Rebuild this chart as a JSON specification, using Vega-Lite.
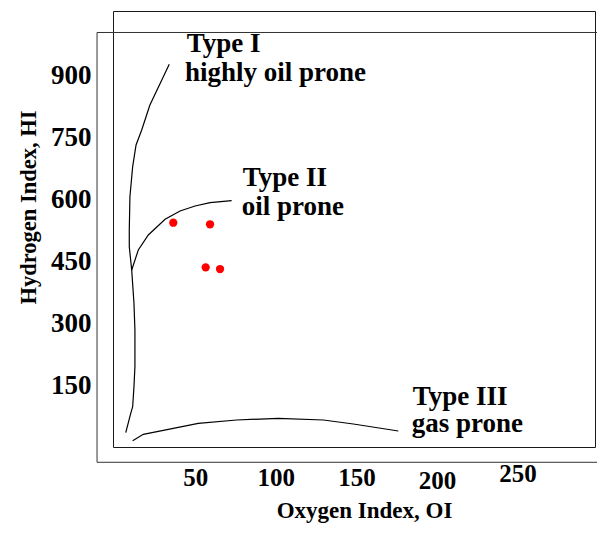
{
  "$schema": "https://vega.github.io/schema/vega-lite/v6.json",
  "autosize": {"type": "none"},
  "padding": {"left": 113, "top": 11, "right": 2, "bottom": 86},
  "width": 482,
  "height": 436,
  "background": "white",
  "config": {
    "view": {"stroke": "#1a1a1a", "strokeWidth": 1},
    "font": "Liberation Serif"
  },
  "datasets": {
    "curves": [
      {"series": "Type I", "seq": 1, "x": 33.9, "y": 926.0},
      {"series": "Type I", "seq": 2, "x": 21.9, "y": 827.5},
      {"series": "Type I", "seq": 3, "x": 19.5, "y": 799.2},
      {"series": "Type I", "seq": 4, "x": 16.8, "y": 767.1},
      {"series": "Type I", "seq": 5, "x": 13.3, "y": 730.8},
      {"series": "Type I", "seq": 6, "x": 11.2, "y": 678.3},
      {"series": "Type I", "seq": 7, "x": 9.5, "y": 605.7},
      {"series": "Type I", "seq": 8, "x": 9.1, "y": 525.1},
      {"series": "Type I", "seq": 9, "x": 9.1, "y": 484.7},
      {"series": "Type I", "seq": 10, "x": 10.6, "y": 428.3},
      {"series": "Type I", "seq": 11, "x": 12.0, "y": 348.4},
      {"series": "Type I", "seq": 12, "x": 12.6, "y": 283.1},
      {"series": "Type I", "seq": 13, "x": 12.6, "y": 194.3},
      {"series": "Type I", "seq": 14, "x": 12.0, "y": 145.9},
      {"series": "Type I", "seq": 15, "x": 11.2, "y": 97.5},
      {"series": "Type I", "seq": 16, "x": 10.0, "y": 81.5},
      {"series": "Type I", "seq": 17, "x": 6.9, "y": 34.6},
      {"series": "Type II", "seq": 1, "x": 10.6, "y": 428.3},
      {"series": "Type II", "seq": 2, "x": 14.7, "y": 476.7},
      {"series": "Type II", "seq": 3, "x": 20.9, "y": 513.0},
      {"series": "Type II", "seq": 4, "x": 31.3, "y": 551.0},
      {"series": "Type II", "seq": 5, "x": 40.6, "y": 571.1},
      {"series": "Type II", "seq": 6, "x": 49.9, "y": 583.2},
      {"series": "Type II", "seq": 7, "x": 59.2, "y": 591.1},
      {"series": "Type II", "seq": 8, "x": 72.6, "y": 596.0},
      {"series": "Type III", "seq": 1, "x": 11.2, "y": 15.2},
      {"series": "Type III", "seq": 2, "x": 17.8, "y": 30.7},
      {"series": "Type III", "seq": 3, "x": 51.9, "y": 57.3},
      {"series": "Type III", "seq": 4, "x": 75.7, "y": 65.3},
      {"series": "Type III", "seq": 5, "x": 101.5, "y": 69.4},
      {"series": "Type III", "seq": 6, "x": 129.5, "y": 65.3},
      {"series": "Type III", "seq": 7, "x": 148.1, "y": 55.7},
      {"series": "Type III", "seq": 8, "x": 176.0, "y": 38.7}
    ],
    "samples": [
      {"x": 36.4, "y": 542.7},
      {"x": 59.2, "y": 538.9},
      {"x": 56.5, "y": 434.8},
      {"x": 65.4, "y": 430.7}
    ],
    "labels": [
      {"x": 44.7, "y": 955.8, "label": "Type I"},
      {"x": 43.7, "y": 886.0, "label": "highly oil prone"},
      {"x": 79.5, "y": 632.5, "label": "Type II"},
      {"x": 78.8, "y": 562.5, "label": "oil prone"},
      {"x": 184.9, "y": 102.5, "label": "Type III"},
      {"x": 184.3, "y": 35.5, "label": "gas prone"}
    ],
    "frame": [
      {"x": -10.9, "x2": 300, "y": -37.0, "y2": 1003}
    ]
  },
  "encoding": {
    "x": {
      "field": "x",
      "type": "quantitative",
      "scale": {"domain": [-1, 298], "nice": false, "zero": false},
      "axis": {
        "values": [50, 100, 150, 200, 250],
        "ticks": false,
        "tickSize": 0,
        "domain": false,
        "grid": false,
        "labelFont": "Liberation Serif",
        "labelFontWeight": "bold",
        "labelFontSize": 25,
        "labelColor": "black",
        "labelBaseline": "alphabetic",
        "labelFlush": false,
        "labelOverlap": false,
        "labelPadding": {"expr": "datum.value == 200 ? 41.5 : (datum.value == 250 ? 34 : 38.7)"},
        "title": "Oxygen Index, OI",
        "titleFont": "Liberation Serif",
        "titleFontWeight": "bold",
        "titleFontSize": 23,
        "titleColor": "black",
        "titleX": 251,
        "titleY": 70,
        "titleBaseline": "alphabetic",
        "titleAlign": "center"
      }
    },
    "y": {
      "field": "y",
      "type": "quantitative",
      "scale": {"domain": [0, 1055], "nice": false, "zero": false},
      "axis": {
        "values": [150, 300, 450, 600, 750, 900],
        "ticks": false,
        "tickSize": 0,
        "domain": false,
        "grid": false,
        "labelFont": "Liberation Serif",
        "labelFontWeight": "bold",
        "labelFontSize": 27,
        "labelColor": "black",
        "labelPadding": 22,
        "labelFlush": false,
        "labelOverlap": false,
        "title": "Hydrogen Index, HI",
        "titleFont": "Liberation Serif",
        "titleFontWeight": "bold",
        "titleFontSize": 22.5,
        "titleColor": "black",
        "titleAngle": -90,
        "titleX": -78,
        "titleY": 196,
        "titleBaseline": "alphabetic",
        "titleAlign": "center"
      }
    }
  },
  "layer": [
    {
      "data": {"name": "frame"},
      "mark": {"type": "rect", "filled": false, "stroke": "#333333", "strokeWidth": 1},
      "encoding": {
        "x2": {"field": "x2"},
        "y2": {"field": "y2"}
      }
    },
    {
      "data": {"name": "curves"},
      "mark": {"type": "line", "color": "black", "strokeWidth": 1.2},
      "encoding": {
        "detail": {"field": "series", "type": "nominal"},
        "order": {"field": "seq", "type": "quantitative"}
      }
    },
    {
      "data": {"name": "samples"},
      "mark": {"type": "circle", "color": "#ff0000", "opacity": 1, "size": 68},
      "encoding": {}
    },
    {
      "data": {"name": "labels"},
      "mark": {
        "type": "text",
        "align": "left",
        "baseline": "alphabetic",
        "font": "Liberation Serif",
        "fontWeight": "bold",
        "fontSize": 27,
        "color": "black"
      },
      "encoding": {
        "text": {"field": "label", "type": "nominal"}
      }
    }
  ]
}
